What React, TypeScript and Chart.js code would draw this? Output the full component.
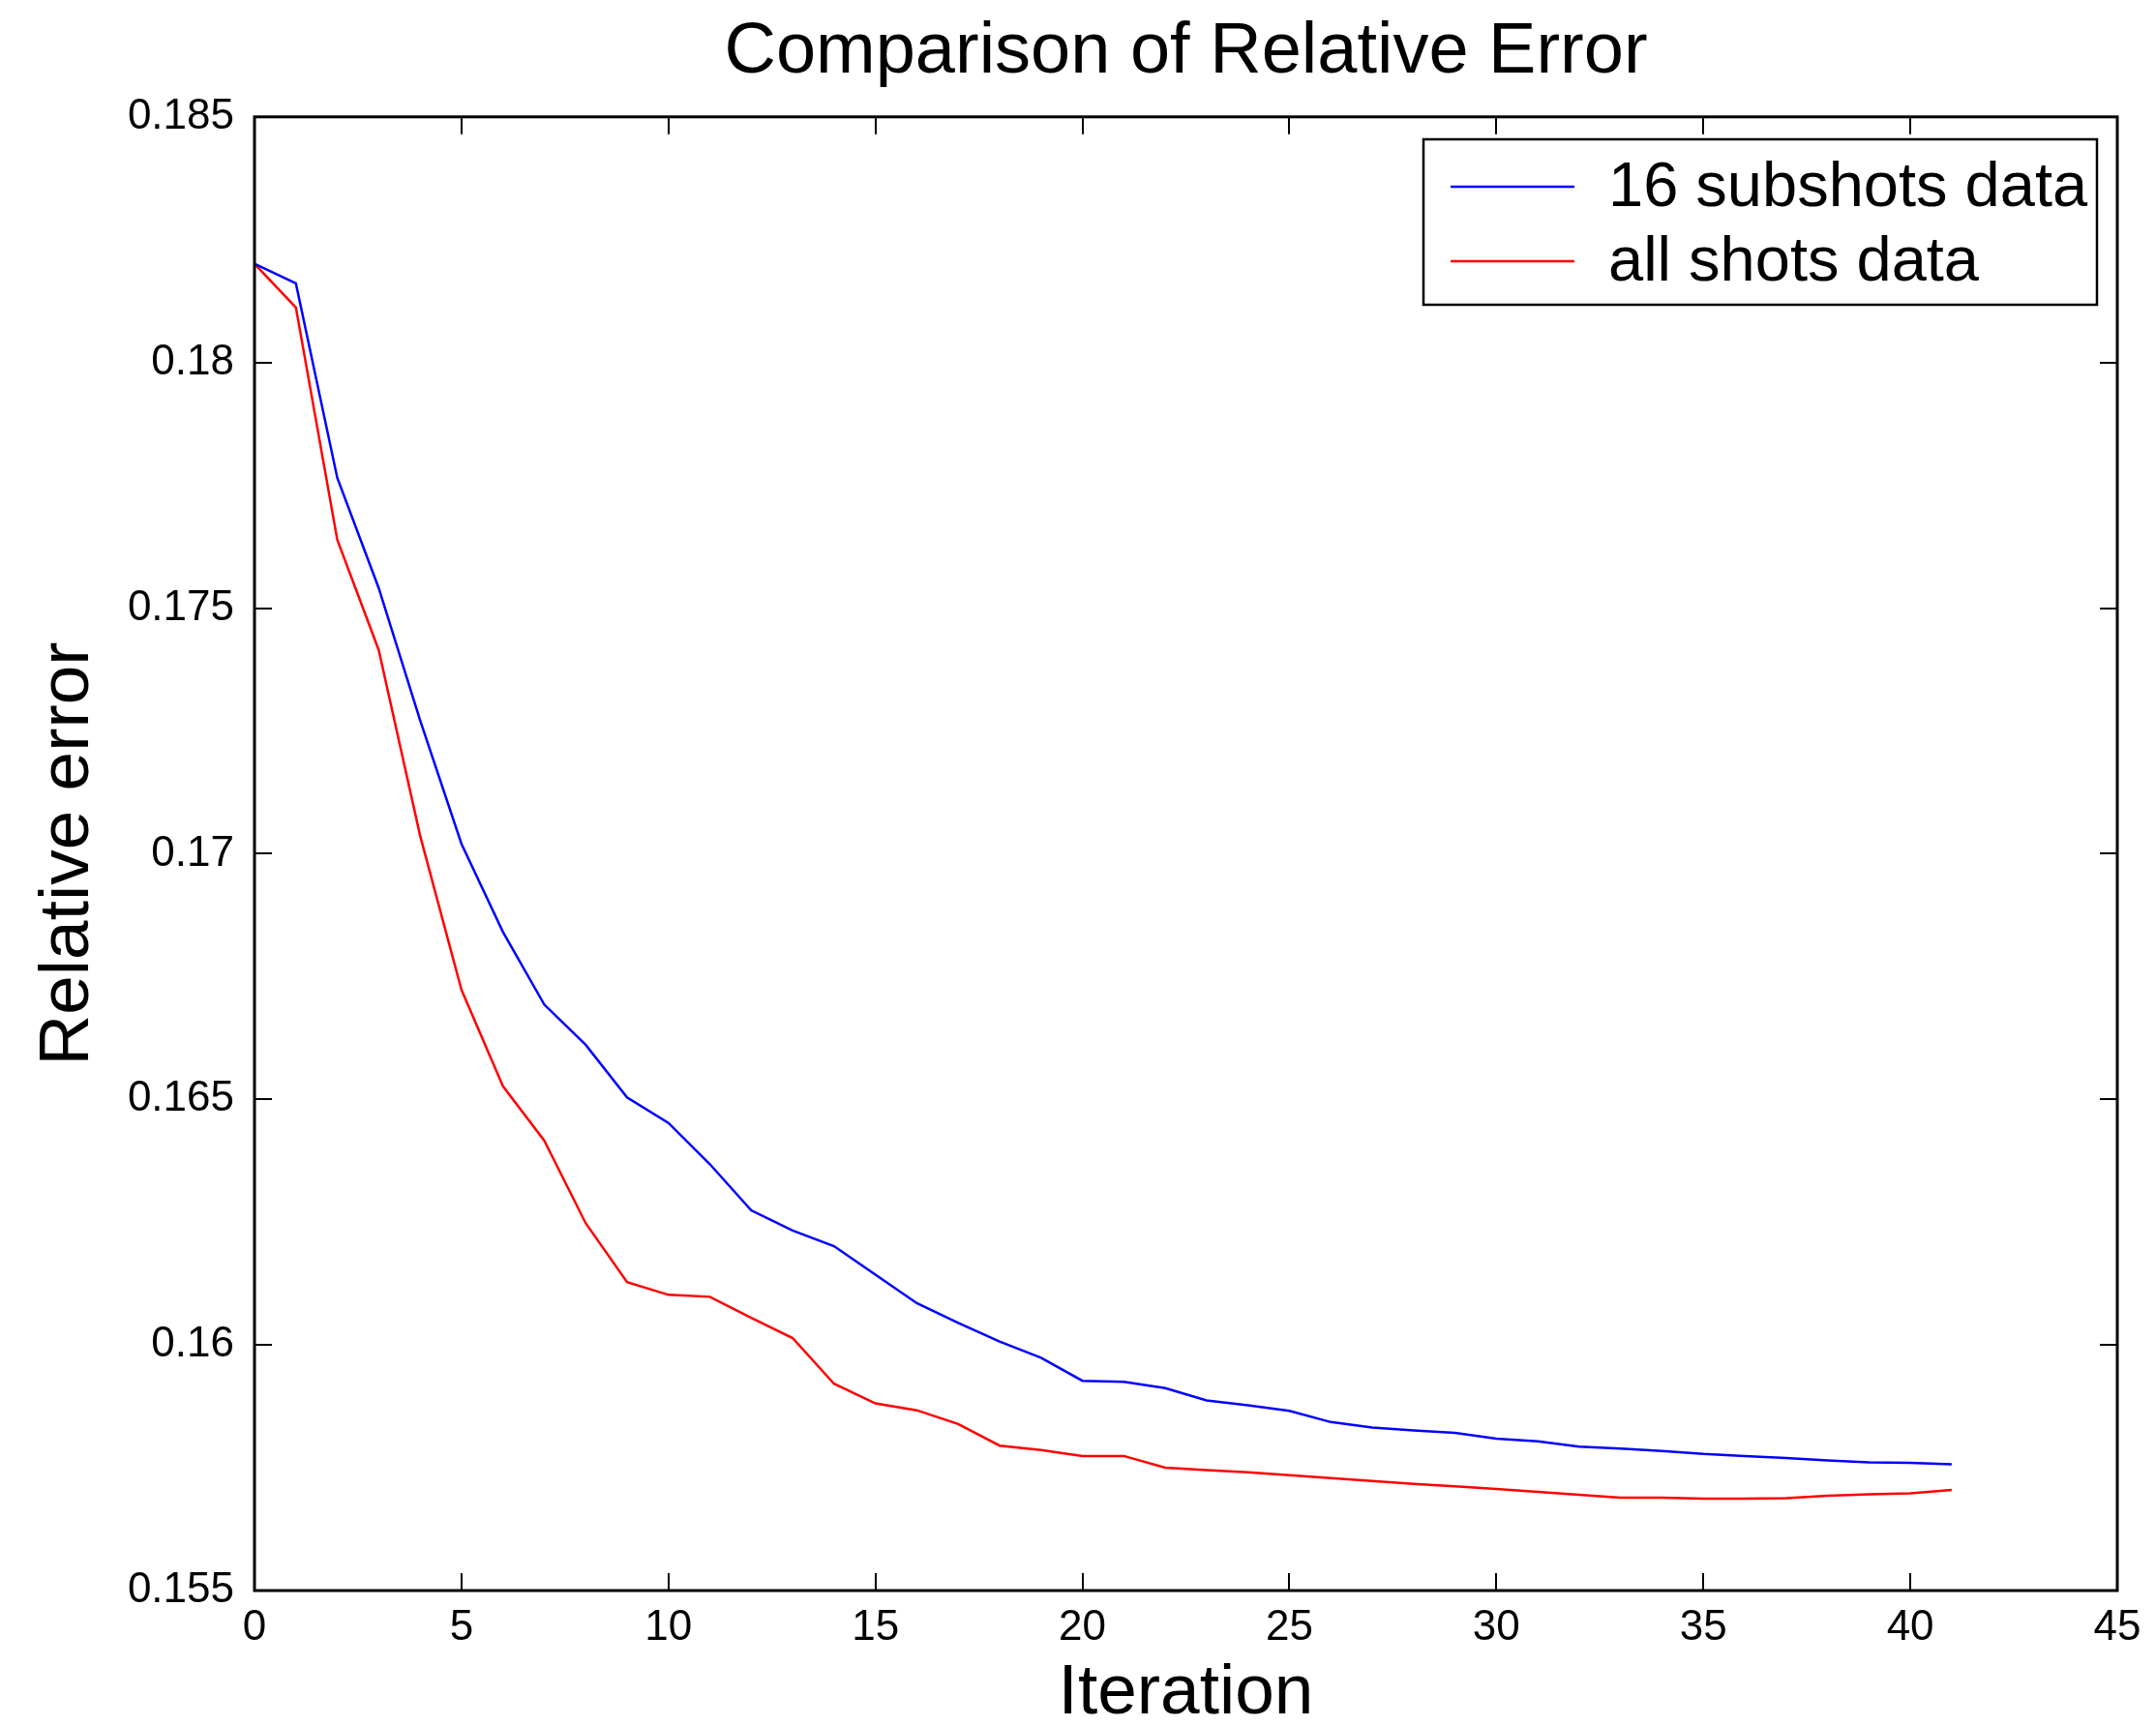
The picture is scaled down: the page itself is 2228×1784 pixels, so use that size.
import React, { useEffect, useRef } from "react";
import { Chart, registerables } from "chart.js";

Chart.register(...registerables);

const iterations = [0,1,2,3,4,5,6,7,8,9,10,11,12,13,14,15,16,17,18,19,20,21,22,23,24,25,26,27,28,29,30,31,32,33,34,35,36,37,38,39,40,41];

const subshots = [
  0.18201, 0.18161, 0.17765, 0.17541, 0.17272, 0.17020, 0.16841, 0.16693, 0.16611, 0.16504,
  0.16452, 0.16368, 0.16274, 0.16233, 0.16201, 0.16143, 0.16085, 0.16045, 0.16007, 0.15974,
  0.15927, 0.15925, 0.15912, 0.15887, 0.15877, 0.15866, 0.15843, 0.15832, 0.15826, 0.15821,
  0.15809, 0.15804, 0.15793, 0.15789, 0.15784, 0.15778, 0.15774, 0.15770, 0.15765, 0.15761,
  0.15760, 0.15757,
];

const allShots = [
  0.18201, 0.18112, 0.17639, 0.17415, 0.17037, 0.16723, 0.16527, 0.16416, 0.16248, 0.16128,
  0.16102, 0.16098, 0.16055, 0.16014, 0.15921, 0.15881, 0.15867, 0.15839, 0.15795, 0.15786,
  0.15774, 0.15774, 0.15750, 0.15745, 0.15741, 0.15735, 0.15729, 0.15723, 0.15717, 0.15712,
  0.15707, 0.15701, 0.15695, 0.15689, 0.15689, 0.15687, 0.15687, 0.15688, 0.15693, 0.15696,
  0.15698, 0.15705,
];

const seriesLabels = ["16 subshots data", "all shots data"];
const seriesColors = ["#0000ff", "#ff0000"];

const titleText = "Comparison of Relative Error";
const xTitle = "Iteration";
const yTitle = "Relative error";

const xMin = 0, xMax = 45, xStep = 5;
const yMin = 0.155, yMax = 0.185, yStep = 0.005;

const FONT = "'Liberation Sans', Arial, Helvetica, sans-serif";

const boxPlugin = {
  id: "matlabBox",
  afterDraw(chart: any) {
    const { ctx, chartArea } = chart;
    const { left, right, top, bottom } = chartArea;
    const xs = chart.scales.x;
    const ys = chart.scales.y;
    const tl = 18;
    ctx.save();
    ctx.strokeStyle = "#000";
    ctx.lineWidth = 2;
    ctx.beginPath();
    xs.ticks.forEach((t: any) => {
      const px = Math.round(xs.getPixelForValue(t.value));
      ctx.moveTo(px, bottom);
      ctx.lineTo(px, bottom - tl);
      ctx.moveTo(px, top);
      ctx.lineTo(px, top + tl);
    });
    ys.ticks.forEach((t: any) => {
      const py = Math.round(ys.getPixelForValue(t.value));
      ctx.moveTo(left, py);
      ctx.lineTo(left + tl, py);
      ctx.moveTo(right, py);
      ctx.lineTo(right - tl, py);
    });
    ctx.stroke();
    ctx.lineWidth = 3;
    ctx.strokeRect(left, top, right - left, bottom - top);

    // legend box
    const lx = 1471, ly = 144, lw = 696, lh = 171;
    ctx.fillStyle = "#fff";
    ctx.fillRect(lx, ly, lw, lh);
    ctx.lineWidth = 2.5;
    ctx.strokeStyle = "#000";
    ctx.strokeRect(lx, ly, lw, lh);
    const rows = [193, 270];
    ctx.font = `65px ${FONT}`;
    ctx.textBaseline = "middle";
    ctx.textAlign = "left";
    chart.data.datasets.forEach((ds: any, i: number) => {
      const y = rows[i];
      ctx.strokeStyle = ds.borderColor;
      ctx.lineWidth = 2.5;
      ctx.beginPath();
      ctx.moveTo(1499, y);
      ctx.lineTo(1627, y);
      ctx.stroke();
      ctx.fillStyle = "#000";
      ctx.fillText(ds.label, 1662, y + 2);
    });
    ctx.restore();
  },
};

export default function App() {
  const ref = useRef<HTMLCanvasElement>(null);

  useEffect(() => {
    if (!ref.current) return;
    const chart = new Chart(ref.current, {
      type: "line",
      data: {
        labels: iterations,
        datasets: [
          {
            label: seriesLabels[0],
            data: iterations.map((x, i) => ({ x, y: subshots[i] })),
            borderColor: seriesColors[0],
            backgroundColor: seriesColors[0],
            borderWidth: 2.5,
            pointRadius: 0,
            tension: 0,
          },
          {
            label: seriesLabels[1],
            data: iterations.map((x, i) => ({ x, y: allShots[i] })),
            borderColor: seriesColors[1],
            backgroundColor: seriesColors[1],
            borderWidth: 2.5,
            pointRadius: 0,
            tension: 0,
          },
        ],
      },
      options: {
        responsive: false,
        animation: false,
        layout: { padding: { left: 0, right: 40, top: 0, bottom: 0 } },
        plugins: {
          legend: { display: false },
          tooltip: { enabled: false },
          title: {
            display: true,
            fullSize: false,
            text: titleText,
            color: "#000",
            font: { family: FONT, size: 74, weight: "normal", lineHeight: 1.2 },
            padding: { top: 10, bottom: 22 },
          },
        },
        scales: {
          x: {
            type: "linear",
            min: xMin,
            max: xMax,
            border: { display: false },
            grid: { display: false },
            ticks: {
              stepSize: xStep,
              color: "#000",
              font: { family: FONT, size: 44 },
              padding: 4,
              maxRotation: 0,
            },
            title: {
              display: true,
              text: xTitle,
              color: "#000",
              font: { family: FONT, size: 73, lineHeight: 0.9 },
              padding: 0,
            },
            afterFit: (s: any) => { s.height = 140; },
          },
          y: {
            type: "linear",
            min: yMin,
            max: yMax,
            border: { display: false },
            grid: { display: false },
            ticks: {
              stepSize: yStep,
              color: "#000",
              font: { family: FONT, size: 44 },
              padding: 13,
              callback: (v: any) => String(Number(Number(v).toFixed(3))),
            },
            title: {
              display: true,
              text: yTitle,
              color: "#000",
              font: { family: FONT, size: 73, lineHeight: 1.2 },
              padding: { top: 27, bottom: 0 },
            },
            afterFit: (s: any) => { s.width = 263; },
          },
        },
      },
      plugins: [boxPlugin],
    });
    return () => chart.destroy();
  }, []);

  return (
    <div style={{ position: "absolute", left: 0, top: 0, width: 2228, height: 1784, background: "#fff" }}>
      <canvas ref={ref} width={2228} height={1784} style={{ width: 2228, height: 1784, display: "block" }} />
    </div>
  );
}
